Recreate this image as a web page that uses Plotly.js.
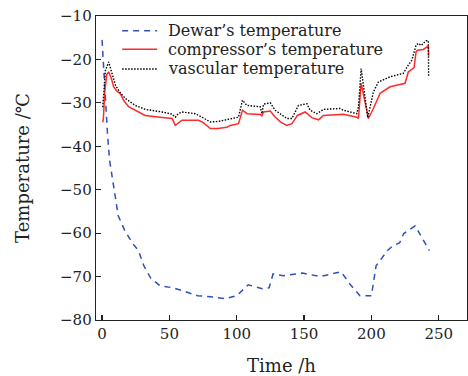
<!DOCTYPE html>
<html>
<head>
<meta charset="utf-8">
<script src="https://cdn.plot.ly/plotly-3.0.1.min.js"></script>
<style>html,body{margin:0;padding:0;background:#fff;}#chart{width:468px;height:376px;}</style>
</head>
<body>
<div id="chart"></div>
<script>
// Dewar's temperature
const dewarX = [0, 2, 4, 5.5, 8.5, 12, 17, 23, 27, 31, 36, 43, 53, 60, 71, 83, 91, 100, 108.5, 119, 124, 127, 134.5, 149, 162, 177.5, 184, 191.5, 200, 203.5, 209, 212, 216, 221, 224, 232.5, 243];
const dewarY = [-15.5, -27, -37, -43, -49.5, -56, -59.5, -62.5, -64, -67.5, -70.3, -72.1, -72.6, -73.3, -74.4, -74.7, -75.1, -74.4, -71.9, -72.8, -72.6, -69.4, -69.8, -69.2, -70, -68.9, -71.7, -74.4, -74.4, -67.5, -65.2, -64, -62.9, -62.2, -60.1, -58.3, -64];

// compressor's temperature
const compX = [0.5, 1, 2, 3.5, 5, 7, 8.6, 11, 13.6, 16, 19.7, 23.4, 27, 32, 43, 52, 54.4, 56, 59.3, 65, 71.7, 75.4, 80.4, 86, 92.7, 95.2, 101.3, 104.3, 107.6, 117.4, 118.7, 119.9, 124.9, 128.6, 133, 137.2, 141, 145.1, 150.8, 155.8, 160.7, 164.4, 179.2, 189.2, 190.4, 192.4, 197.8, 201.5, 206.5, 213.9, 225, 227.4, 231.7, 233.2, 234.2, 238.6, 242.3, 242.5];
const compY = [-34.5, -33.5, -27.5, -23.5, -22.9, -24.5, -26.3, -27.3, -27.9, -29.4, -30.9, -31.5, -32.2, -32.9, -33.3, -33.6, -35.2, -34.8, -34, -34, -34, -34.6, -35.9, -35.9, -35.6, -35.2, -34.8, -31.7, -32.5, -32.7, -33, -32.1, -31.9, -33.3, -34.5, -35.2, -34.8, -32.9, -32.1, -33.4, -33.9, -32.9, -32.6, -33.3, -33.6, -25.5, -33.6, -31.3, -27.8, -26.3, -25.5, -22.9, -21.9, -18.2, -17.9, -17.7, -16.9, -19.2];

// vascular temperature
const vascX = [0.5, 1.5, 2.5, 4.9, 7, 9.9, 13, 17.3, 24.7, 32.1, 44.5, 52, 54.4, 56.5, 59.3, 69.2, 74.2, 80.4, 86, 95.2, 101.3, 104.3, 107.6, 117.4, 118.7, 119.9, 124.9, 128.6, 137.2, 141, 145.8, 152.1, 154.5, 159.5, 164.4, 176.8, 179.2, 189.2, 190.4, 192.4, 197.3, 201.5, 205.2, 213.9, 223.7, 227.4, 230, 233.2, 234.9, 237, 240.6, 242.3, 242.5];
const vascY = [-31, -27, -22.5, -20.6, -22.8, -25.9, -27.5, -29, -30.6, -31.5, -32.1, -32.6, -33.3, -32.5, -32.1, -32.5, -33.3, -34.4, -34.3, -33.6, -33.3, -29.4, -30.6, -30.9, -32.5, -30.3, -30, -31.7, -33.6, -33.6, -30.6, -30.2, -31.7, -32.5, -31.5, -31.3, -31.7, -32.5, -30.9, -22.1, -33.4, -27.5, -25.2, -24, -23.2, -21.3, -20.2, -16.7, -16.3, -16.8, -15.7, -15.7, -24];

const seriesNames = ["Dewar’s temperature", "compressor’s temperature", "vascular temperature"];
const xTicks = [0, 50, 100, 150, 200, 250];
const yTicks = [-80, -70, -60, -50, -40, -30, -20, -10];

const FONT = "DejaVu Serif, Liberation Serif, serif";
const styles = [
  {color: "#2f52b8", width: 1.5, dash: "6px,5px"},
  {color: "#ff2b2b", width: 1.5, dash: "solid"},
  {color: "#000000", width: 1.4, dash: "1.5px,1.5px"}
];

const traces = [
  {x: dewarX, y: dewarY, name: seriesNames[0], mode: "lines", line: styles[0]},
  {x: compX, y: compY, name: seriesNames[1], mode: "lines", line: styles[1]},
  {x: vascX, y: vascY, name: seriesNames[2], mode: "lines", line: styles[2]}
];

// Custom legend (tighter row spacing than Plotly's built-in legend)
const legRowsY = [0.9516, 0.8905, 0.8257];
const shapes = seriesNames.map((n, i) => ({
  type: "line", xref: "paper", yref: "paper",
  x0: 0.0705, x1: 0.1647, y0: legRowsY[i], y1: legRowsY[i],
  line: {color: styles[i].color, width: styles[i].width, dash: styles[i].dash}
}));
const annotations = seriesNames.map((n, i) => ({
  xref: "paper", yref: "paper", x: 0.189, y: legRowsY[i],
  xanchor: "left", yanchor: "middle", showarrow: false, text: n,
  font: {family: FONT, size: 16, color: "#222"}
}));

const axisCommon = {
  showgrid: false, zeroline: false, showline: true, linecolor: "#222", linewidth: 1.3,
  mirror: true, ticks: "inside", ticklen: 5, tickwidth: 1.2, tickcolor: "#222",
  tickfont: {family: FONT, size: 15, color: "#222"}
};

const layout = {
  width: 468, height: 376,
  margin: {l: 95.5, r: 1, t: 16, b: 56},
  paper_bgcolor: "#fff", plot_bgcolor: "#fff",
  font: {family: FONT, color: "#222"},
  showlegend: false,
  shapes: shapes,
  annotations: annotations,
  xaxis: Object.assign({}, axisCommon, {
    range: [-4.5, 271], tickvals: xTicks, automargin: false,
    title: {text: "Time /h", font: {family: FONT, size: 18, color: "#222"}, standoff: 22}
  }),
  yaxis: Object.assign({}, axisCommon, {
    range: [-80, -10], tickvals: yTicks, automargin: false,
    title: {text: "Temperature /℃", font: {family: FONT, size: 18, color: "#222"}, standoff: 25}
  })
};

Plotly.newPlot("chart", traces, layout, {displayModeBar: false, staticPlot: true});
</script>
</body>
</html>
